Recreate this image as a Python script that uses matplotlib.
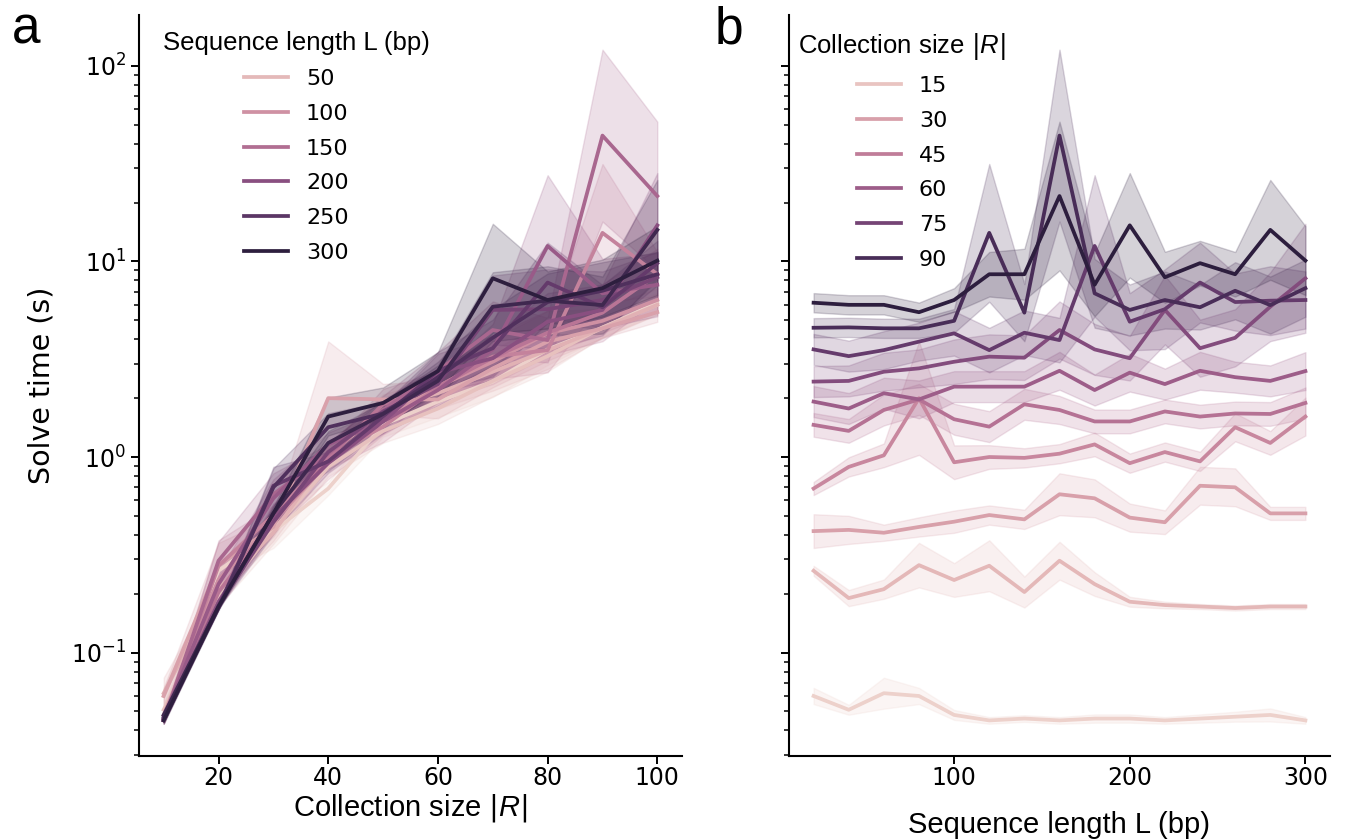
import numpy as np
import matplotlib
matplotlib.use("Agg")
import matplotlib.pyplot as plt
import matplotlib.colors as mcolors
from matplotlib.lines import Line2D
import seaborn as sns

plt.rcParams['mathtext.fontset'] = 'custom'
plt.rcParams['mathtext.rm'] = 'DejaVu Sans'
plt.rcParams['mathtext.it'] = 'Liberation Sans:italic'
plt.rcParams['mathtext.bf'] = 'DejaVu Sans:bold'

# sequence length L (bp) and collection size |R|
seq_len = [20, 40, 60, 80, 100, 120, 140, 160, 180, 200, 220, 240, 260, 280, 300]
coll_size = [10, 20, 30, 40, 50, 60, 70, 80, 90, 100]

# mean solve time (s), one row per collection size, columns follow seq_len
solve_time = [
    [0.060, 0.051, 0.062, 0.060, 0.048, 0.045, 0.046, 0.045, 0.046, 0.046, 0.045, 0.046, 0.047, 0.048, 0.045],
    [0.262, 0.190, 0.211, 0.280, 0.235, 0.278, 0.204, 0.295, 0.224, 0.182, 0.175, 0.172, 0.169, 0.172, 0.172],
    [0.418, 0.424, 0.410, 0.439, 0.467, 0.505, 0.480, 0.645, 0.615, 0.490, 0.464, 0.713, 0.700, 0.515, 0.515],
    [0.69, 0.89, 1.02, 2.00, 0.94, 1.00, 0.99, 1.04, 1.16, 0.93, 1.06, 0.95, 1.42, 1.18, 1.61],
    [1.46, 1.36, 1.74, 1.97, 1.56, 1.43, 1.86, 1.74, 1.52, 1.52, 1.71, 1.61, 1.67, 1.66, 1.89],
    [1.92, 1.77, 2.12, 1.97, 2.29, 2.29, 2.29, 2.76, 2.20, 2.70, 2.36, 2.76, 2.56, 2.45, 2.75],
    [2.43, 2.45, 2.73, 2.84, 3.07, 3.26, 3.22, 4.46, 3.55, 3.20, 5.65, 3.60, 4.07, 5.87, 8.20],
    [3.55, 3.28, 3.52, 3.89, 4.29, 3.52, 4.32, 3.96, 12.0, 4.92, 5.70, 7.80, 6.20, 6.30, 6.35],
    [4.58, 4.60, 4.55, 4.55, 4.97, 14.0, 5.47, 44.0, 6.87, 5.65, 6.35, 5.83, 7.08, 5.98, 7.30],
    [6.15, 6.00, 6.00, 5.50, 6.35, 8.60, 8.60, 21.6, 7.60, 15.3, 8.30, 9.80, 8.60, 14.5, 10.1],
]

# confidence band as a multiplicative factor around the mean (lo = mean/f, hi = mean*f)
ci_factor = [
    [1.10, 1.06, 1.20, 1.10, 1.06, 1.04, 1.04, 1.04, 1.05, 1.05, 1.04, 1.05, 1.06, 1.08, 1.04],
    [1.06, 1.10, 1.12, 1.30, 1.22, 1.35, 1.20, 1.25, 1.15, 1.06, 1.04, 1.03, 1.03, 1.03, 1.03],
    [1.22, 1.18, 1.10, 1.12, 1.14, 1.12, 1.12, 1.28, 1.25, 1.18, 1.15, 1.25, 1.25, 1.08, 1.08],
    [1.08, 1.12, 1.15, 1.95, 1.22, 1.15, 1.12, 1.12, 1.15, 1.12, 1.12, 1.12, 1.18, 1.15, 1.25],
    [1.15, 1.15, 1.20, 1.20, 1.20, 1.20, 1.20, 1.18, 1.15, 1.15, 1.15, 1.15, 1.15, 1.15, 1.20],
    [1.20, 1.20, 1.20, 1.25, 1.20, 1.20, 1.20, 1.25, 1.20, 1.25, 1.20, 1.25, 1.20, 1.20, 1.25],
    [1.20, 1.20, 1.25, 1.25, 1.30, 1.30, 1.30, 1.40, 1.35, 1.30, 1.50, 1.40, 1.40, 1.50, 1.90],
    [1.20, 1.20, 1.25, 1.25, 1.30, 1.30, 1.30, 1.30, 2.30, 1.40, 1.60, 1.60, 1.40, 1.50, 1.40],
    [1.12, 1.12, 1.12, 1.12, 1.15, 2.25, 1.40, 2.75, 1.50, 1.35, 1.40, 1.30, 1.40, 1.40, 1.40],
    [1.12, 1.12, 1.12, 1.12, 1.15, 1.30, 1.35, 2.40, 1.45, 1.85, 1.35, 1.30, 1.30, 1.80, 1.50],
]

# levels shown in the (brief) legends
legend_len = [50, 100, 150, 200, 250, 300]
legend_size = [15, 30, 45, 60, 75, 90]

T = np.array(solve_time)
F = np.array(ci_factor)
cmap = sns.cubehelix_palette(as_cmap=True)

W, H = 1350, 839
fig = plt.figure(figsize=(W / 100, H / 100), dpi=100)
ax_a = fig.add_axes([139 / W, 83 / H, 543 / W, 741 / H])
ax_b = fig.add_axes([789 / W, 83 / H, 541 / W, 741 / H], sharey=ax_a)

LW = 2.7
TICK_FS = 17
LEG_FS = 16

# panel a: x = collection size, hue = sequence length
norm_len = mcolors.Normalize(min(seq_len), max(seq_len))
for j, L in enumerate(seq_len):
    c = cmap(norm_len(L))
    ax_a.fill_between(coll_size, T[:, j] / F[:, j], T[:, j] * F[:, j], color=c, alpha=0.2, lw=1)
    ax_a.plot(coll_size, T[:, j], color=c, lw=LW)

# panel b: x = sequence length, hue = collection size
norm_size = mcolors.Normalize(min(coll_size), max(coll_size))
for i, R in enumerate(coll_size):
    c = cmap(norm_size(R))
    ax_b.fill_between(seq_len, T[i] / F[i], T[i] * F[i], color=c, alpha=0.2, lw=1)
    ax_b.plot(seq_len, T[i], color=c, lw=LW)

ax_a.set_yscale('log')
ax_a.set_ylim(0.0296, 182)
ax_a.set_xlim(5.5, 104.5)
ax_a.set_xticks([20, 40, 60, 80, 100])
ax_b.set_xlim(6, 314)
ax_b.set_xticks([100, 200, 300])

for ax in (ax_a, ax_b):
    for s in ('top', 'right'):
        ax.spines[s].set_visible(False)
    for s in ('left', 'bottom'):
        ax.spines[s].set_linewidth(1.5)
    ax.tick_params(which='major', length=6, width=1.4, labelsize=TICK_FS)
    ax.tick_params(axis='x', which='major', pad=1.5)
    ax.tick_params(which='minor', length=3.5, width=1.1)
ax_b.tick_params(which='both', labelleft=False)

ax_a.set_ylabel('Solve time (s)', fontsize=20.5, family='DejaVu Sans', labelpad=11)
ax_a.set_xlabel('Collection size $|R|$', fontsize=21, family='Liberation Sans', labelpad=1)
ax_b.set_xlabel('Sequence length L (bp)', fontsize=21, family='Liberation Sans', labelpad=15)


def add_legend(ax, levels, norm, title, x0):
    handles = [Line2D([], [], color=cmap(norm(v)), lw=LW) for v in levels]
    leg = ax.legend(handles, [str(v) for v in levels], title=title, loc='upper left',
                    frameon=False, fontsize=LEG_FS, handlelength=2.0, labelspacing=0.66,
                    borderaxespad=0.3, bbox_to_anchor=(x0, 1.0),
                    title_fontproperties={'family': 'Liberation Sans', 'size': 18.5})
    return leg


add_legend(ax_a, legend_len, norm_len, 'Sequence length L (bp)', 0.015)
add_legend(ax_b, legend_size, norm_size, 'Collection size $|R|$', -0.012)

fig.text(12 / W, 1 - 43 / H, 'a', fontsize=37, family='Liberation Sans', va='baseline')
fig.text(715 / W, 1 - 43 / H, 'b', fontsize=37, family='Liberation Sans', va='baseline')

fig.savefig('out.png', dpi=100)
